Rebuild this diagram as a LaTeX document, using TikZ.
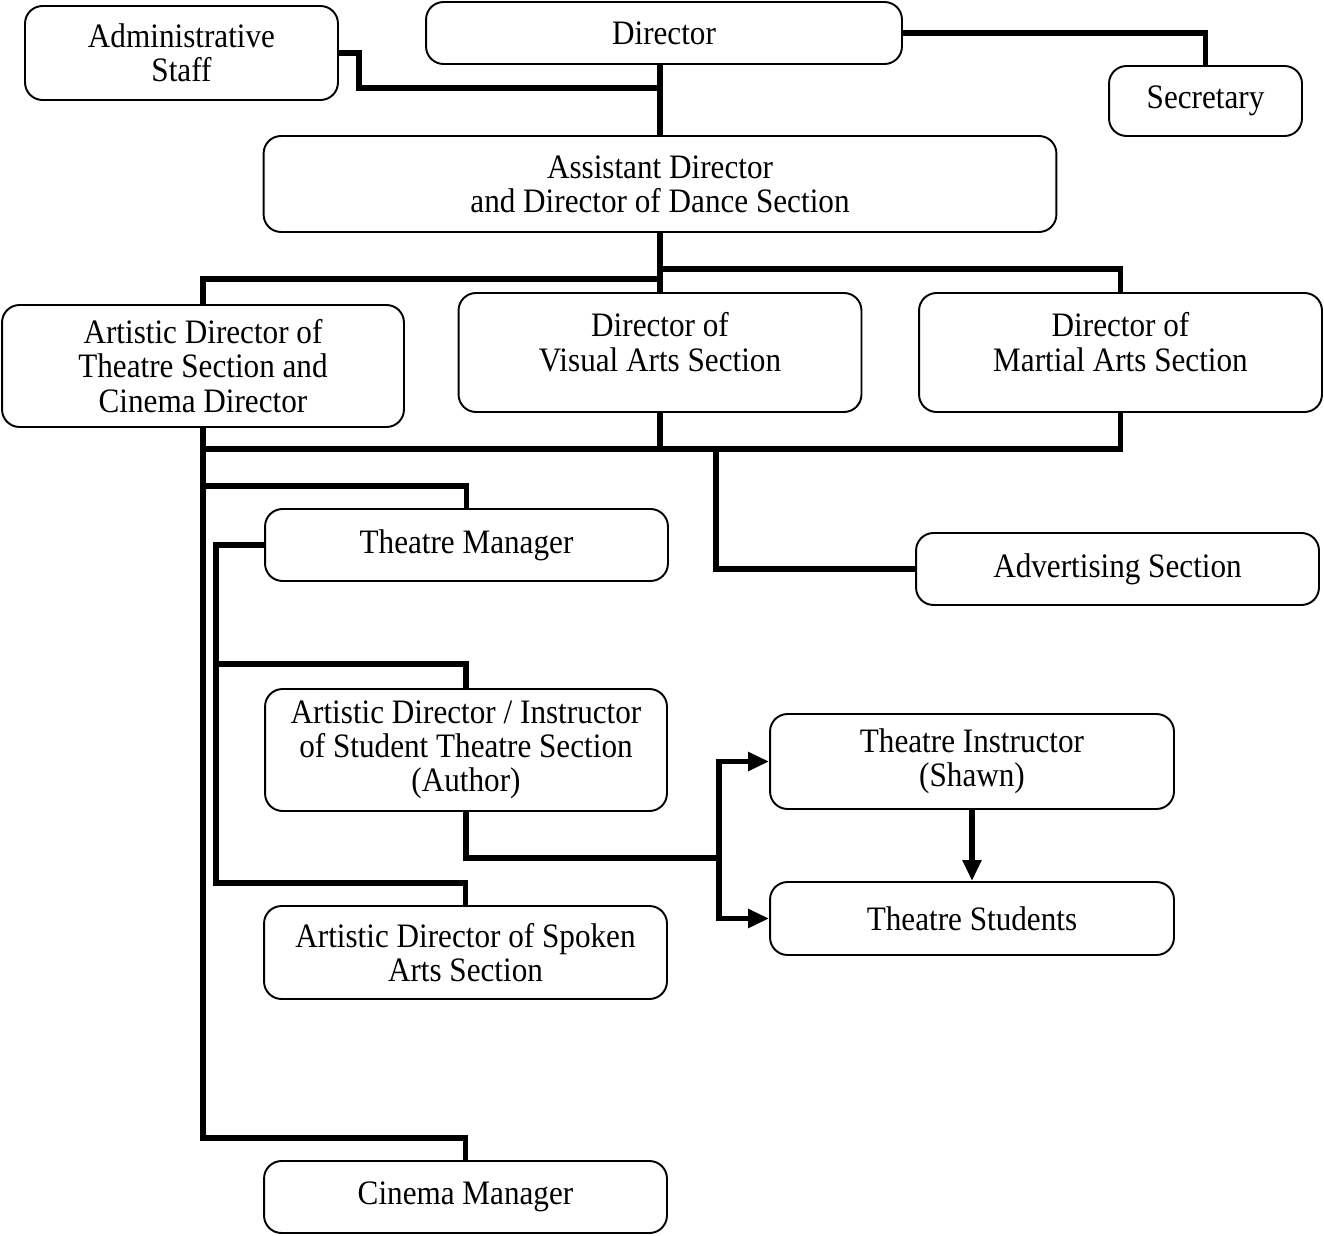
\documentclass[tikz,border=0pt]{standalone}
\usepackage{fontspec}
\setmainfont{Liberation Serif}[FakeStretch=0.91]
\usetikzlibrary{arrows.meta, positioning, calc}

\begin{document}
\begin{tikzpicture}[x=0.02cm, y=-0.02cm,
  box/.style={draw, line width=1.1pt, rounded corners=0.35cm, fill=white,
              align=center, inner sep=2pt,
              font=\fontsize{19.5}{19.5}\selectfont},
  link/.style={line width=3.3pt},
  arr/.style={line width=3.3pt, -{Triangle[length=0.42cm, width=0.36cm]}},
]
  \useasboundingbox (0,0) rectangle (1324,1236);

  % top level
  \node[box, minimum width=6.26cm, minimum height=1.88cm] (admin) at (181.5,53) {Administrative\\Staff};
  \node[box, minimum width=9.52cm, minimum height=1.24cm] (director) at (664,33) {Director};
  \node[box, minimum width=3.86cm, minimum height=1.4cm] (secretary) at (1205.5,101) {Secretary};
  \node[box, minimum width=15.86cm, minimum height=1.92cm] (assist) at (660,184) {Assistant Director\\and Director of Dance Section};

  % sections
  \node[box, minimum width=8.04cm, minimum height=2.44cm] (theatre) at (203,366) {Artistic Director of\\Theatre Section and\\Cinema Director};
  \node[box, minimum width=8.06cm, minimum height=2.38cm, text depth=0.42cm] (visual) at (660,352.5) {Director of\\Visual Arts Section};
  \node[box, minimum width=8.06cm, minimum height=2.38cm, text depth=0.42cm] (martial) at (1120.5,352.5) {Director of\\Martial Arts Section};

  % theatre section
  \node[box, minimum width=8.06cm, minimum height=1.44cm] (tmanager) at (466.5,545) {Theatre Manager};
  \node[box, minimum width=8.06cm, minimum height=1.44cm] (advert) at (1117.5,569) {Advertising Section};
  \node[box, minimum width=8.04cm, minimum height=2.44cm] (student) at (466,750) {Artistic Director / Instructor\\of Student Theatre Section\\(Author)};
  \node[box, minimum width=8.08cm, minimum height=1.9cm] (tinstr) at (972,761.5) {Theatre Instructor\\(Shawn)};
  \node[box, minimum width=8.08cm, minimum height=1.46cm] (tstudents) at (972,918.5) {Theatre Students};
  \node[box, minimum width=8.06cm, minimum height=1.86cm] (spoken) at (465.5,952.5) {Artistic Director of Spoken\\Arts Section};
  \node[box, minimum width=8.06cm, minimum height=1.44cm] (cinema) at (465.5,1197) {Cinema Manager};

  \coordinate (bus) at (203,449);
  \coordinate (advtap) at (716,449);

  \draw[link] (assist.north) -- (assist.north |- director.south);
  \draw[link] (admin.east) -- ++(20,0) -- ++(0,35) -| (assist.north);
  \draw[link] (director.east) -| (secretary.north);

  \draw[link] (assist.south) -- ++(0,46) -| (theatre.north);
  \draw[link] (assist.south) -- ++(0,36) -| (martial.north);
  \draw[link] (assist.south) -- (visual.north);

  \draw[link] (martial.south) |- (bus);
  \draw[link] (visual.south) -- (visual.south |- bus);
  \draw[link] (advtap) |- (advert.west);

  \draw[link] (theatre.south) -- ++(0,710) -| (cinema.north);
  \draw[link] (theatre.south) ++(0,58) -| (tmanager.north);
  \draw[link] (tmanager.west) -- ++(-48,0) -- ++(0,338) -| (spoken.north);
  \draw[link] (tmanager.west) ++(-48,119) -| (student.north);

  \draw[link] (student.south) -- ++(0,46) -- ++(253,0) coordinate (split);
  \draw[arr] (split) |- (tinstr.west);
  \draw[arr] (split) |- (tstudents.west);
  \draw[arr] (tinstr.south) -- (tstudents.north);
\end{tikzpicture}
\end{document}
